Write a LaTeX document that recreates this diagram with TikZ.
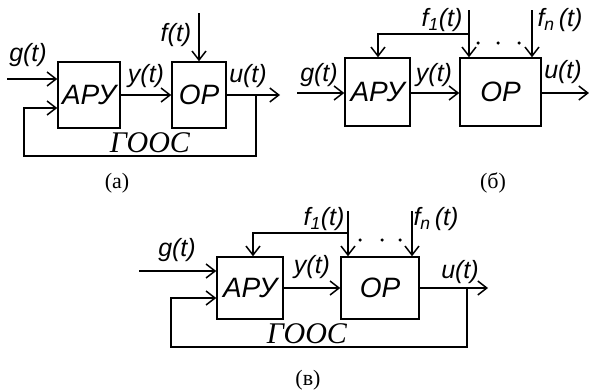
\documentclass[tikz,border=0pt]{standalone}
\usepackage{fontspec}
\setmainfont{Liberation Serif}
\setsansfont{Liberation Sans}
\usetikzlibrary{arrows.meta}
\begin{document}
\begin{tikzpicture}[x=1pt,y=-1pt,
  line width=1.5pt,
  arr/.style={-{Straight Barb[length=9pt,width=14pt,line width=1.5pt]}},
  blk/.style={draw,minimum width=#1,inner sep=0pt,font=\sffamily\itshape\fontsize{28}{28}\selectfont},
  sig/.style={inner sep=0pt,font=\sffamily\itshape\fontsize{25}{25}\selectfont},
  goos/.style={inner sep=0pt,font=\rmfamily\itshape\fontsize{30}{30}\selectfont},
  capt/.style={inner sep=0pt,font=\rmfamily\fontsize{22}{22}\selectfont},
  dot/.style={circle,fill,inner sep=0pt,minimum size=3.5pt}]
\useasboundingbox (0,0) rectangle (589,391);
% ---------------- (a)
\node[blk=62pt,minimum height=66pt] (apya) at (89,95) {АРУ};
\node[blk=54pt,minimum height=66pt] (opa) at (199,95) {ОР};
\coordinate (ga) at (7,79);
\coordinate (fa) at (199,13);
\coordinate (outa) at (280,95);
\coordinate (tapa) at (256,95);
\coordinate (fba1) at (256,156);
\coordinate (fba2) at (24,156);
\coordinate (fba3) at (24,108);
\draw[arr] (ga) -- (ga -| apya.west);
\draw[arr] (apya.east) -- (opa.west);
\draw[arr] (opa.east) -- (outa);
\draw[arr] (fa) -- (opa.north);
\draw[arr] (tapa) -- (fba1) -- (fba2) -- (fba3) -- (fba3 -| apya.west);
\node[sig] (ga-l) at (28,55) {g(t)};
\node[sig] (ya-l) at (146,76) {y(t)};
\node[sig] (ua-l) at (248,76) {u(t)};
\node[sig] (fa-l) at (176,35) {f(t)};
\node[goos] (goosa) at (150,143) {ГООС};
\node[capt] (capa) at (117,183) {(а)};
% ---------------- (б)
\node[blk=65pt,minimum height=68pt] (apyb) at (377.5,92) {АРУ};
\node[blk=81pt,minimum height=68pt] (opb) at (500.5,92) {ОР};
\coordinate (gb) at (297,93);
\coordinate (outb) at (589,93);
\coordinate (f1b) at (469,10);
\coordinate (fnb) at (532,10);
\coordinate (brb) at (469,34);
\coordinate (brb2) at (378,34);
\draw[arr] (gb) -- (gb -| apyb.west);
\draw[arr] (apyb.east |- gb) -- (opb.west |- gb);
\draw[arr] (opb.east |- gb) -- (outb);
\draw[arr] (f1b) -- (f1b |- opb.north);
\draw[arr] (fnb) -- (fnb |- opb.north);
\draw[arr] (brb) -- (brb2) -- (brb2 |- apyb.north);
\node[dot] (db1) at (478,43) {};
\node[dot] (db2) at (498,43) {};
\node[dot] (db3) at (519,43) {};
\node[sig] (gb-l) at (319,75) {g(t)};
\node[sig] (yb-l) at (434,75) {y(t)};
\node[sig] (ub-l) at (563,72) {u(t)};
\node[sig] (f1b-l) at (442,20) {f\textsubscript{1}(t)};
\node[sig] (fnb-l) at (560,20) {f\textsubscript{n}\,(t)};
\node[capt] (capb) at (493,183) {(б)};
% ---------------- (в)
\node[blk=66pt,minimum height=62pt] (apyc) at (250,288) {АРУ};
\node[blk=78pt,minimum height=62pt] (opc) at (380,288) {ОР};
\coordinate (gc) at (139,271);
\coordinate (outc) at (488,288);
\coordinate (tapc) at (467,288);
\coordinate (fbc1) at (467,347);
\coordinate (fbc2) at (171,347);
\coordinate (fbc3) at (171,298);
\coordinate (f1c) at (348,211);
\coordinate (fnc) at (412,211);
\coordinate (brc) at (348,233);
\coordinate (brc2) at (253,233);
\draw[arr] (gc) -- (gc -| apyc.west);
\draw[arr] (apyc.east) -- (opc.west);
\draw[arr] (opc.east) -- (outc);
\draw[arr] (tapc) -- (fbc1) -- (fbc2) -- (fbc3) -- (fbc3 -| apyc.west);
\draw[arr] (f1c) -- (f1c |- opc.north);
\draw[arr] (fnc) -- (fnc |- opc.north);
\draw[arr] (brc) -- (brc2) -- (brc2 |- apyc.north);
\node[dot] (dc1) at (360,240) {};
\node[dot] (dc2) at (382,240) {};
\node[dot] (dc3) at (400,240) {};
\node[sig] (gc-l) at (177,250) {g(t)};
\node[sig] (yc-l) at (312,267) {y(t)};
\node[sig] (uc-l) at (460,272) {u(t)};
\node[sig] (f1c-l) at (324,219) {f\textsubscript{1}(t)};
\node[sig] (fnc-l) at (436,219) {f\textsubscript{n}\,(t)};
\node[goos] (goosc) at (307,334) {ГООС};
\node[capt] (capc) at (308,380) {(в)};
\end{tikzpicture}
\end{document}
